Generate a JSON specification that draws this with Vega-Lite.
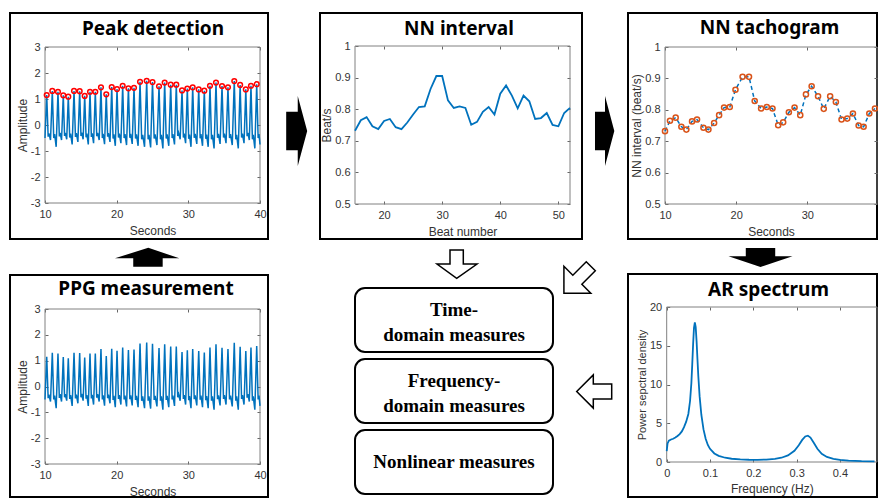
{
  "$schema": "https://vega.github.io/schema/vega-lite/v6.json",
  "padding": {"left": 9, "top": 12, "right": 0, "bottom": 0},
  "background": "white",
  "datasets": {
    "ppg": [
      {"t":10.00,"amp":-0.50},{"t":10.24,"amp":1.15},
      {"t":10.44,"amp":-0.45},{"t":10.55,"amp":-0.32},{"t":10.77,"amp":-0.58},{"t":11.02,"amp":1.31},
      {"t":11.22,"amp":-0.50},{"t":11.34,"amp":-0.35},{"t":11.56,"amp":-0.84},{"t":11.81,"amp":1.28},
      {"t":12.00,"amp":-0.44},{"t":12.11,"amp":-0.30},{"t":12.31,"amp":-0.58},{"t":12.55,"amp":1.14},
      {"t":12.73,"amp":-0.42},{"t":12.83,"amp":-0.30},{"t":13.03,"amp":-0.55},{"t":13.25,"amp":1.09},
      {"t":13.45,"amp":-0.48},{"t":13.57,"amp":-0.33},{"t":13.79,"amp":-0.75},{"t":14.05,"amp":1.31},
      {"t":14.25,"amp":-0.46},{"t":14.37,"amp":-0.31},{"t":14.59,"amp":-0.65},{"t":14.84,"amp":1.30},
      {"t":15.02,"amp":-0.42},{"t":15.12,"amp":-0.29},{"t":15.32,"amp":-0.55},{"t":15.54,"amp":1.12},
      {"t":15.73,"amp":-0.47},{"t":15.84,"amp":-0.33},{"t":16.04,"amp":-0.75},{"t":16.28,"amp":1.28},
      {"t":16.47,"amp":-0.46},{"t":16.58,"amp":-0.32},{"t":16.78,"amp":-0.70},{"t":17.02,"amp":1.28},
      {"t":17.22,"amp":-0.43},{"t":17.34,"amp":-0.30},{"t":17.56,"amp":-0.58},{"t":17.81,"amp":1.45},
      {"t":18.00,"amp":-0.50},{"t":18.11,"amp":-0.34},{"t":18.31,"amp":-0.74},{"t":18.55,"amp":1.18},
      {"t":18.74,"amp":-0.45},{"t":18.85,"amp":-0.31},{"t":19.07,"amp":-0.65},{"t":19.31,"amp":1.46},
      {"t":19.50,"amp":-0.52},{"t":19.61,"amp":-0.36},{"t":19.81,"amp":-0.80},{"t":20.05,"amp":1.38},
      {"t":20.25,"amp":-0.48},{"t":20.37,"amp":-0.33},{"t":20.59,"amp":-0.70},{"t":20.84,"amp":1.51},
      {"t":21.04,"amp":-0.50},{"t":21.16,"amp":-0.35},{"t":21.38,"amp":-0.77},{"t":21.64,"amp":1.41},
      {"t":21.84,"amp":-0.49},{"t":21.95,"amp":-0.34},{"t":22.17,"amp":-0.73},{"t":22.42,"amp":1.43},
      {"t":22.63,"amp":-0.52},{"t":22.76,"amp":-0.36},{"t":22.99,"amp":-0.80},{"t":23.26,"amp":1.66},
      {"t":23.49,"amp":-0.55},{"t":23.63,"amp":-0.38},{"t":23.89,"amp":-0.84},{"t":24.19,"amp":1.70},
      {"t":24.39,"amp":-0.55},{"t":24.51,"amp":-0.38},{"t":24.74,"amp":-0.86},{"t":25.00,"amp":1.65},
      {"t":25.23,"amp":-0.52},{"t":25.36,"amp":-0.36},{"t":25.62,"amp":-0.77},{"t":25.91,"amp":1.49},
      {"t":26.11,"amp":-0.55},{"t":26.23,"amp":-0.38},{"t":26.45,"amp":-0.90},{"t":26.70,"amp":1.63},
      {"t":26.91,"amp":-0.52},{"t":27.04,"amp":-0.36},{"t":27.27,"amp":-0.80},{"t":27.54,"amp":1.55},
      {"t":27.74,"amp":-0.50},{"t":27.85,"amp":-0.35},{"t":28.07,"amp":-0.75},{"t":28.32,"amp":1.55},
      {"t":28.52,"amp":-0.42},{"t":28.64,"amp":-0.30},{"t":28.86,"amp":-0.55},{"t":29.12,"amp":1.33},
      {"t":29.31,"amp":-0.48},{"t":29.42,"amp":-0.33},{"t":29.62,"amp":-0.70},{"t":29.86,"amp":1.40},
      {"t":30.05,"amp":-0.53},{"t":30.16,"amp":-0.37},{"t":30.37,"amp":-0.84},{"t":30.61,"amp":1.45},
      {"t":30.82,"amp":-0.49},{"t":30.95,"amp":-0.34},{"t":31.18,"amp":-0.73},{"t":31.45,"amp":1.37},
      {"t":31.65,"amp":-0.51},{"t":31.76,"amp":-0.35},{"t":31.98,"amp":-0.80},{"t":32.23,"amp":1.32},
      {"t":32.43,"amp":-0.53},{"t":32.55,"amp":-0.37},{"t":32.77,"amp":-0.84},{"t":33.02,"amp":1.51},
      {"t":33.23,"amp":-0.55},{"t":33.36,"amp":-0.38},{"t":33.59,"amp":-0.90},{"t":33.86,"amp":1.63},
      {"t":34.07,"amp":-0.49},{"t":34.20,"amp":-0.34},{"t":34.43,"amp":-0.73},{"t":34.70,"amp":1.50},
      {"t":34.91,"amp":-0.48},{"t":35.03,"amp":-0.33},{"t":35.26,"amp":-0.70},{"t":35.53,"amp":1.45},
      {"t":35.75,"amp":-0.50},{"t":35.88,"amp":-0.35},{"t":36.13,"amp":-0.77},{"t":36.41,"amp":1.69},
      {"t":36.62,"amp":-0.55},{"t":36.74,"amp":-0.38},{"t":36.97,"amp":-0.90},{"t":37.23,"amp":1.54},
      {"t":37.43,"amp":-0.48},{"t":37.55,"amp":-0.33},{"t":37.77,"amp":-0.70},{"t":38.02,"amp":1.37},
      {"t":38.20,"amp":-0.43},{"t":38.31,"amp":-0.30},{"t":38.51,"amp":-0.58},{"t":38.74,"amp":1.51},
      {"t":38.94,"amp":-0.55},{"t":39.06,"amp":-0.38},{"t":39.28,"amp":-0.90},{"t":39.54,"amp":1.57},
      {"t":39.74,"amp":-0.50},{"t":39.86,"amp":-0.35},{"t":40.00,"amp":-0.75}
    ],
    "beats": [
      {"beat":15,"peak_t":10.24,"peak_amp":1.15,"nn_t":10.0,"nn":0.732},
      {"beat":16,"peak_t":11.02,"peak_amp":1.31,"nn_t":10.7,"nn":0.765},
      {"beat":17,"peak_t":11.81,"peak_amp":1.28,"nn_t":11.5,"nn":0.775},
      {"beat":18,"peak_t":12.55,"peak_amp":1.14,"nn_t":12.3,"nn":0.746},
      {"beat":19,"peak_t":13.25,"peak_amp":1.09,"nn_t":13.0,"nn":0.737},
      {"beat":20,"peak_t":14.05,"peak_amp":1.31,"nn_t":13.8,"nn":0.763},
      {"beat":21,"peak_t":14.84,"peak_amp":1.30,"nn_t":14.5,"nn":0.769},
      {"beat":22,"peak_t":15.54,"peak_amp":1.12,"nn_t":15.4,"nn":0.743},
      {"beat":23,"peak_t":16.28,"peak_amp":1.28,"nn_t":16.1,"nn":0.737},
      {"beat":24,"peak_t":17.02,"peak_amp":1.28,"nn_t":16.9,"nn":0.758},
      {"beat":25,"peak_t":17.81,"peak_amp":1.45,"nn_t":17.6,"nn":0.783},
      {"beat":26,"peak_t":18.55,"peak_amp":1.18,"nn_t":18.3,"nn":0.807},
      {"beat":27,"peak_t":19.31,"peak_amp":1.46,"nn_t":19.1,"nn":0.809},
      {"beat":28,"peak_t":20.05,"peak_amp":1.38,"nn_t":19.9,"nn":0.864},
      {"beat":29,"peak_t":20.84,"peak_amp":1.51,"nn_t":20.9,"nn":0.905},
      {"beat":30,"peak_t":21.64,"peak_amp":1.41,"nn_t":21.8,"nn":0.905},
      {"beat":31,"peak_t":22.42,"peak_amp":1.43,"nn_t":22.6,"nn":0.828},
      {"beat":32,"peak_t":23.26,"peak_amp":1.66,"nn_t":23.5,"nn":0.804},
      {"beat":33,"peak_t":24.19,"peak_amp":1.70,"nn_t":24.3,"nn":0.809},
      {"beat":34,"peak_t":25.00,"peak_amp":1.65,"nn_t":25.1,"nn":0.804},
      {"beat":35,"peak_t":25.91,"peak_amp":1.49,"nn_t":25.9,"nn":0.751},
      {"beat":36,"peak_t":26.70,"peak_amp":1.63,"nn_t":26.6,"nn":0.760},
      {"beat":37,"peak_t":27.54,"peak_amp":1.55,"nn_t":27.4,"nn":0.792},
      {"beat":38,"peak_t":28.32,"peak_amp":1.55,"nn_t":28.2,"nn":0.807},
      {"beat":39,"peak_t":29.12,"peak_amp":1.33,"nn_t":29.0,"nn":0.783},
      {"beat":40,"peak_t":29.86,"peak_amp":1.40,"nn_t":29.8,"nn":0.849},
      {"beat":41,"peak_t":30.61,"peak_amp":1.45,"nn_t":30.6,"nn":0.875},
      {"beat":42,"peak_t":31.45,"peak_amp":1.37,"nn_t":31.5,"nn":0.843},
      {"beat":43,"peak_t":32.23,"peak_amp":1.32,"nn_t":32.3,"nn":0.803},
      {"beat":44,"peak_t":33.02,"peak_amp":1.51,"nn_t":33.2,"nn":0.843},
      {"beat":45,"peak_t":33.86,"peak_amp":1.63,"nn_t":34.0,"nn":0.825},
      {"beat":46,"peak_t":34.70,"peak_amp":1.50,"nn_t":34.8,"nn":0.769},
      {"beat":47,"peak_t":35.53,"peak_amp":1.45,"nn_t":35.6,"nn":0.772},
      {"beat":48,"peak_t":36.41,"peak_amp":1.69,"nn_t":36.4,"nn":0.788},
      {"beat":49,"peak_t":37.23,"peak_amp":1.54,"nn_t":37.2,"nn":0.750},
      {"beat":50,"peak_t":38.02,"peak_amp":1.37,"nn_t":37.9,"nn":0.746},
      {"beat":51,"peak_t":38.74,"peak_amp":1.51,"nn_t":38.7,"nn":0.788},
      {"beat":52,"peak_t":39.54,"peak_amp":1.57,"nn_t":39.5,"nn":0.804}
    ],
    "ar": [
      {"f":0.000,"psd":1.4},{"f":0.002,"psd":2.4},{"f":0.005,"psd":2.75},{"f":0.010,"psd":2.9},
      {"f":0.015,"psd":3.0},{"f":0.020,"psd":3.15},{"f":0.025,"psd":3.35},{"f":0.030,"psd":3.6},
      {"f":0.035,"psd":3.95},{"f":0.040,"psd":4.5},{"f":0.045,"psd":5.2},{"f":0.050,"psd":6.2},
      {"f":0.054,"psd":7.9},{"f":0.057,"psd":10.2},{"f":0.059,"psd":12.6},{"f":0.061,"psd":15.2},
      {"f":0.063,"psd":17.3},{"f":0.065,"psd":18.0},{"f":0.067,"psd":17.4},{"f":0.069,"psd":15.6},
      {"f":0.071,"psd":13.3},{"f":0.073,"psd":11.1},{"f":0.076,"psd":8.5},{"f":0.080,"psd":6.1},
      {"f":0.085,"psd":4.2},{"f":0.090,"psd":3.0},{"f":0.095,"psd":2.2},{"f":0.100,"psd":1.7},
      {"f":0.110,"psd":1.1},{"f":0.120,"psd":0.8},{"f":0.135,"psd":0.55},{"f":0.150,"psd":0.42},
      {"f":0.170,"psd":0.33},{"f":0.190,"psd":0.29},{"f":0.210,"psd":0.28},{"f":0.230,"psd":0.31},
      {"f":0.250,"psd":0.4},{"f":0.265,"psd":0.55},{"f":0.280,"psd":0.85},{"f":0.295,"psd":1.45},
      {"f":0.305,"psd":2.15},{"f":0.313,"psd":2.85},{"f":0.320,"psd":3.3},{"f":0.326,"psd":3.4},
      {"f":0.332,"psd":3.15},{"f":0.340,"psd":2.45},{"f":0.348,"psd":1.7},{"f":0.358,"psd":1.05},
      {"f":0.370,"psd":0.65},{"f":0.385,"psd":0.4},{"f":0.400,"psd":0.27},{"f":0.420,"psd":0.17},
      {"f":0.450,"psd":0.1},{"f":0.480,"psd":0.07}
    ]
  },
  "vconcat": [
    {
      "hconcat": [
        {
          "width": 258, "height": 226,
          "view": {"stroke": "#000000", "strokeWidth": 2, "fill": "#ffffff"},
          "title": {"text": "Peak detection", "dx": 14, "offset": -26},
          "layer": [
            {
              "data": {"values": [{"part": "axes box"}]},
              "mark": {"type": "rect", "fill": "transparent", "stroke": "#808080", "strokeWidth": 1},
              "encoding": {
                "x": {"datum": 10, "type": "quantitative", "scale": {"domain": [10, 40], "range": [35, 250], "nice": false, "zero": false},
                      "axis": {"orient": "bottom", "offset": -36, "values": [10, 20, 30, 40], "title": "Seconds", "titleY": 31, "titleBaseline": "alphabetic", "labelExpr": "'' + datum.value"}},
                "x2": {"datum": 40},
                "y": {"datum": -3, "type": "quantitative", "scale": {"domain": [-3, 3], "range": [190, 34], "nice": false, "zero": false},
                      "axis": {"orient": "left", "offset": -35, "values": [-3, -2, -1, 0, 1, 2, 3], "title": "Amplitude", "titleX": -19, "titleAngle": 270, "titleBaseline": "alphabetic", "labelExpr": "'' + datum.value"}},
                "y2": {"datum": 3}
              }
            },
            {
              "data": {"name": "ppg"},
              "mark": {"type": "line", "color": "#0072BD", "strokeWidth": 1.5},
              "encoding": {
                "x": {"field": "t", "type": "quantitative", "scale": {"domain": [10, 40], "range": [35, 250], "nice": false, "zero": false},
                      "axis": {"orient": "top", "offset": -34, "values": [10, 20, 30, 40], "labels": false, "title": null}},
                "y": {"field": "amp", "type": "quantitative", "scale": {"domain": [-3, 3], "range": [190, 34], "nice": false, "zero": false},
                      "axis": {"orient": "right", "offset": -8, "values": [-3, -2, -1, 0, 1, 2, 3], "labels": false, "title": null}}
              }
            },
            {
              "data": {"name": "beats"},
              "mark": {"type": "point", "shape": "circle", "filled": false, "color": "#FF0000", "strokeWidth": 1.5, "size": 22, "opacity": 1},
              "encoding": {
                "x": {"field": "peak_t", "type": "quantitative", "scale": {"domain": [10, 40], "range": [35, 250], "nice": false, "zero": false}, "axis": null},
                "y": {"field": "peak_amp", "type": "quantitative", "scale": {"domain": [-3, 3], "range": [190, 34], "nice": false, "zero": false}, "axis": null}
              }
            }
          ],
          "resolve": {"axis": {"x": "independent", "y": "independent"}}
        },
        {
          "width": 52, "height": 226,
          "data": {"values": [{"step": "peaks to NN interval"}]},
          "mark": {"type": "point", "shape": "M -0.223 -0.407 L 0.107 -0.407 L 0.107 -0.857 L 0.377 0.143 L 0.107 1.143 L 0.107 0.693 L -0.223 0.693 Z", "size": 4900, "filled": true, "color": "#000000", "opacity": 1, "strokeWidth": 0},
          "encoding": {}
        },
        {
          "width": 262, "height": 226,
          "view": {"stroke": "#000000", "strokeWidth": 2, "fill": "#ffffff"},
          "title": {"text": "NN interval", "dx": 8, "offset": -26},
          "layer": [
            {
              "data": {"values": [{"part": "axes box"}]},
              "mark": {"type": "rect", "fill": "transparent", "stroke": "#808080", "strokeWidth": 1},
              "encoding": {
                "x": {"datum": 15, "type": "quantitative", "scale": {"domain": [15, 52], "range": [35, 250], "nice": false, "zero": false},
                      "axis": {"orient": "bottom", "offset": -35, "values": [20, 30, 40, 50], "title": "Beat number", "titleY": 31, "titleBaseline": "alphabetic", "labelExpr": "'' + datum.value"}},
                "x2": {"datum": 52},
                "y": {"datum": 0.5, "type": "quantitative", "scale": {"domain": [0.5, 1], "range": [191, 33], "nice": false, "zero": false},
                      "axis": {"orient": "left", "offset": -35, "values": [0.5, 0.6, 0.7, 0.8, 0.9, 1], "title": "Beat/s", "titleX": -25, "titleAngle": 270, "titleBaseline": "alphabetic", "labelExpr": "'' + datum.value"}},
                "y2": {"datum": 1}
              }
            },
            {
              "data": {"name": "beats"},
              "mark": {"type": "line", "color": "#0072BD", "strokeWidth": 1.8},
              "encoding": {
                "x": {"field": "beat", "type": "quantitative", "scale": {"domain": [15, 52], "range": [35, 250], "nice": false, "zero": false},
                      "axis": {"orient": "top", "offset": -33, "values": [20, 30, 40, 50], "labels": false, "title": null}},
                "y": {"field": "nn", "type": "quantitative", "scale": {"domain": [0.5, 1], "range": [191, 33], "nice": false, "zero": false},
                      "axis": {"orient": "right", "offset": -12, "values": [0.5, 0.6, 0.7, 0.8, 0.9, 1], "labels": false, "title": null}}
              }
            }
          ],
          "resolve": {"axis": {"x": "independent", "y": "independent"}}
        },
        {
          "width": 46, "height": 226,
          "data": {"values": [{"step": "NN interval to tachogram"}]},
          "mark": {"type": "point", "shape": "M -0.286 -0.407 L 0 -0.407 L 0 -0.857 L 0.266 0.143 L 0 1.143 L 0 0.693 L -0.286 0.693 Z", "size": 4900, "filled": true, "color": "#000000", "opacity": 1, "strokeWidth": 0},
          "encoding": {}
        },
        {
          "width": 249, "height": 226,
          "view": {"stroke": "#000000", "strokeWidth": 2, "fill": "#ffffff"},
          "title": {"text": "NN tachogram", "dx": 17, "offset": -25},
          "layer": [
            {
              "data": {"values": [{"part": "axes box"}]},
              "mark": {"type": "rect", "fill": "transparent", "stroke": "#808080", "strokeWidth": 1},
              "encoding": {
                "x": {"datum": 10, "type": "quantitative", "scale": {"domain": [10, 39.78], "range": [37, 249], "nice": false, "zero": false},
                      "axis": {"orient": "bottom", "offset": -35, "values": [10, 20, 30], "title": "Seconds", "titleY": 31, "titleBaseline": "alphabetic", "labelExpr": "'' + datum.value"}},
                "x2": {"datum": 39.78},
                "y": {"datum": 0.5, "type": "quantitative", "scale": {"domain": [0.5, 1], "range": [191, 34], "nice": false, "zero": false},
                      "axis": {"orient": "left", "offset": -37, "values": [0.5, 0.6, 0.7, 0.8, 0.9, 1], "title": "NN interval (beat/s)", "titleX": -25, "titleAngle": 270, "titleBaseline": "alphabetic", "labelExpr": "'' + datum.value"}},
                "y2": {"datum": 1}
              }
            },
            {
              "data": {"name": "beats"},
              "mark": {"type": "line", "color": "#0072BD", "strokeWidth": 1.5, "strokeDash": [4, 3]},
              "encoding": {
                "x": {"field": "nn_t", "type": "quantitative", "scale": {"domain": [10, 39.78], "range": [37, 249], "nice": false, "zero": false},
                      "axis": {"orient": "top", "offset": -34, "values": [10, 20, 30], "labels": false, "title": null}},
                "y": {"field": "nn", "type": "quantitative", "scale": {"domain": [0.5, 1], "range": [191, 34], "nice": false, "zero": false},
                      "axis": {"orient": "right", "offset": 0, "values": [0.5, 0.6, 0.7, 0.8, 0.9, 1], "labels": false, "title": null}}
              }
            },
            {
              "data": {"name": "beats"},
              "mark": {"type": "point", "shape": "circle", "filled": false, "color": "#D95319", "strokeWidth": 1.5, "size": 26, "opacity": 1},
              "encoding": {
                "x": {"field": "nn_t", "type": "quantitative", "scale": {"domain": [10, 39.78], "range": [37, 249], "nice": false, "zero": false}, "axis": null},
                "y": {"field": "nn", "type": "quantitative", "scale": {"domain": [0.5, 1], "range": [191, 34], "nice": false, "zero": false}, "axis": null}
              }
            }
          ],
          "resolve": {"axis": {"x": "independent", "y": "independent"}}
        }
      ],
      "spacing": 0,
      "bounds": "flush"
    },
    {
      "hconcat": [
        {
          "vconcat": [
            {
              "width": 258, "height": 35,
              "data": {"values": [{"step": "PPG to peak detection"}]},
              "mark": {"type": "point", "shape": "M 0.29 -0.306 L 1.26 0.025 L 0.74 0.025 L 0.74 0.29 L -0.18 0.29 L -0.18 0.025 L -0.75 0.025 Z", "size": 4096, "filled": true, "color": "#000000", "opacity": 1, "strokeWidth": 0},
              "encoding": {}
            },
            {
              "width": 258, "height": 222,
              "view": {"stroke": "#000000", "strokeWidth": 2, "fill": "#ffffff"},
              "title": {"text": "PPG measurement", "dx": 7, "offset": -24},
              "layer": [
                {
                  "data": {"values": [{"part": "axes box"}]},
                  "mark": {"type": "rect", "fill": "transparent", "stroke": "#808080", "strokeWidth": 1},
                  "encoding": {
                    "x": {"datum": 10, "type": "quantitative", "scale": {"domain": [10, 40], "range": [35, 250], "nice": false, "zero": false},
                          "axis": {"orient": "bottom", "offset": -33, "values": [10, 20, 30, 40], "title": "Seconds", "titleY": 31, "titleBaseline": "alphabetic", "labelExpr": "'' + datum.value"}},
                    "x2": {"datum": 40},
                    "y": {"datum": -3, "type": "quantitative", "scale": {"domain": [-3, 3], "range": [189, 34], "nice": false, "zero": false},
                          "axis": {"orient": "left", "offset": -35, "values": [-3, -2, -1, 0, 1, 2, 3], "title": "Amplitude", "titleX": -19, "titleAngle": 270, "titleBaseline": "alphabetic", "labelExpr": "'' + datum.value"}},
                    "y2": {"datum": 3}
                  }
                },
                {
                  "data": {"name": "ppg"},
                  "mark": {"type": "line", "color": "#0072BD", "strokeWidth": 1.5},
                  "encoding": {
                    "x": {"field": "t", "type": "quantitative", "scale": {"domain": [10, 40], "range": [35, 250], "nice": false, "zero": false},
                          "axis": {"orient": "top", "offset": -34, "values": [10, 20, 30, 40], "labels": false, "title": null}},
                    "y": {"field": "amp", "type": "quantitative", "scale": {"domain": [-3, 3], "range": [189, 34], "nice": false, "zero": false},
                          "axis": {"orient": "right", "offset": -8, "values": [-3, -2, -1, 0, 1, 2, 3], "labels": false, "title": null}}
                  }
                }
              ],
              "resolve": {"axis": {"x": "independent", "y": "independent"}}
            }
          ],
          "spacing": 0,
          "bounds": "flush"
        },
        {
          "hconcat": [
            {
              "vconcat": [
                {
                  "width": 198, "height": 41,
                  "data": {"values": [{"step": "NN interval to measures"}]},
                  "mark": {"type": "point", "shape": "M -0.2 -0.525 L 0.465 -0.525 L 0.465 0.175 L 1.15 0.175 L 0.135 0.89 L -0.85 0.175 L -0.2 0.175 Z", "size": 1600, "filled": true, "fill": "#ffffff", "stroke": "#000000", "strokeWidth": 1.5, "opacity": 1},
                  "encoding": {}
                },
                {
                  "width": 198, "height": 64,
                  "view": {"stroke": "#000000", "strokeWidth": 2, "cornerRadius": 10, "fill": "#ffffff"},
                  "data": {"values": [{"label": "Time-\ndomain measures"}]},
                  "mark": {"type": "text", "font": "Liberation Serif", "fontWeight": "bold", "fontSize": 19, "lineBreak": "\n", "lineHeight": 25, "baseline": "middle", "align": "center", "color": "#000000", "dy": -10},
                  "encoding": {"text": {"field": "label"}}
                },
                {
                  "width": 198, "height": 64,
                  "view": {"stroke": "#000000", "strokeWidth": 2, "cornerRadius": 10, "fill": "#ffffff"},
                  "data": {"values": [{"label": "Frequency-\ndomain measures"}]},
                  "mark": {"type": "text", "font": "Liberation Serif", "fontWeight": "bold", "fontSize": 19, "lineBreak": "\n", "lineHeight": 25, "baseline": "middle", "align": "center", "color": "#000000", "dy": -10},
                  "encoding": {"text": {"field": "label"}}
                },
                {
                  "width": 198, "height": 64,
                  "view": {"stroke": "#000000", "strokeWidth": 2, "cornerRadius": 10, "fill": "#ffffff"},
                  "data": {"values": [{"label": "Nonlinear measures"}]},
                  "mark": {"type": "text", "font": "Liberation Serif", "fontWeight": "bold", "fontSize": 19, "baseline": "middle", "align": "center", "color": "#000000"},
                  "encoding": {"text": {"field": "label"}}
                }
              ],
              "spacing": 7,
              "bounds": "flush"
            },
            {
              "vconcat": [
                {
                  "width": 73, "height": 78,
                  "data": {"values": [{"step": "tachogram to measures"}]},
                  "mark": {"type": "point", "shape": "M -1.44 -0.44 L -0.49 -1.39 L -0.49 -0.76 L 0.46 -0.76 L 0.46 -0.12 L -0.49 -0.12 L -0.49 0.51 Z", "angle": -45, "size": 1600, "filled": true, "fill": "#ffffff", "stroke": "#000000", "strokeWidth": 1.5, "opacity": 1},
                  "encoding": {}
                },
                {
                  "width": 73, "height": 147,
                  "data": {"values": [{"step": "AR spectrum to measures"}]},
                  "mark": {"type": "point", "shape": "M -0.69 0 L 0.14 -0.83 L 0.14 -0.38 L 1.06 -0.38 L 1.06 0.38 L 0.14 0.38 L 0.14 0.83 Z", "size": 1600, "filled": true, "fill": "#ffffff", "stroke": "#000000", "strokeWidth": 1.5, "opacity": 1},
                  "encoding": {}
                }
              ],
              "spacing": 0,
              "bounds": "flush"
            },
            {
              "vconcat": [
                {
                  "width": 249, "height": 34,
                  "data": {"values": [{"step": "tachogram to AR spectrum"}]},
                  "mark": {"type": "point", "shape": "M 0.25 0.31 L 1.25 -0.02 L 0.71 -0.02 L 0.71 -0.28 L -0.21 -0.28 L -0.21 -0.02 L -0.75 -0.02 Z", "size": 4096, "filled": true, "color": "#000000", "opacity": 1, "strokeWidth": 0},
                  "encoding": {}
                },
                {
                  "width": 249, "height": 223,
                  "view": {"stroke": "#000000", "strokeWidth": 2, "fill": "#ffffff"},
                  "title": {"text": "AR spectrum", "dx": 16, "offset": -26},
                  "layer": [
                    {
                      "data": {"values": [{"part": "axes box"}]},
                      "mark": {"type": "rect", "fill": "transparent", "stroke": "#808080", "strokeWidth": 1},
                      "encoding": {
                        "x": {"datum": 0, "type": "quantitative", "scale": {"domain": [0, 0.4857], "range": [38.7, 249], "nice": false, "zero": false},
                              "axis": {"orient": "bottom", "offset": -35, "values": [0, 0.1, 0.2, 0.3, 0.4], "title": "Frequency (Hz)", "titleY": 30, "titleBaseline": "alphabetic", "labelExpr": "'' + datum.value"}},
                        "x2": {"datum": 0.4857},
                        "y": {"datum": 0, "type": "quantitative", "scale": {"domain": [0, 20], "range": [188, 33], "nice": false, "zero": false},
                              "axis": {"orient": "left", "offset": -38.7, "values": [0, 5, 10, 15, 20], "title": "Power sepctral density", "titleFontSize": 11, "titleX": -21, "titleAngle": 270, "titleBaseline": "alphabetic", "labelExpr": "'' + datum.value"}},
                        "y2": {"datum": 20}
                      }
                    },
                    {
                      "data": {"name": "ar"},
                      "mark": {"type": "line", "color": "#0072BD", "strokeWidth": 1.8, "clip": true},
                      "encoding": {
                        "x": {"field": "f", "type": "quantitative", "scale": {"domain": [0, 0.4857], "range": [38.7, 249], "nice": false, "zero": false},
                              "axis": {"orient": "top", "offset": -33, "values": [0, 0.1, 0.2, 0.3, 0.4], "labels": false, "title": null}},
                        "y": {"field": "psd", "type": "quantitative", "scale": {"domain": [0, 20], "range": [188, 33], "nice": false, "zero": false}, "axis": null}
                      }
                    }
                  ],
                  "resolve": {"axis": {"x": "independent", "y": "independent"}}
                }
              ],
              "spacing": 0,
              "bounds": "flush"
            }
          ],
          "spacing": 0,
          "bounds": "full"
        }
      ],
      "spacing": 85,
      "bounds": "full"
    }
  ],
  "spacing": 0,
  "bounds": "full",
  "config": {
    "view": {"stroke": null},
    "axis": {
      "labelFont": "Liberation Sans", "titleFont": "Liberation Sans",
      "labelFontSize": 11, "titleFontSize": 12, "titleFontWeight": "normal",
      "labelColor": "#333333", "titleColor": "#333333",
      "grid": false, "domain": false, "ticks": true,
      "tickColor": "#666666", "tickSize": -3, "tickWidth": 1,
      "labelPadding": 8, "labelFlush": false
    },
    "title": {"font": "Noto Sans", "fontSize": 19, "fontWeight": "bold", "color": "#000000", "anchor": "middle", "frame": "group", "baseline": "alphabetic"}
  }
}
